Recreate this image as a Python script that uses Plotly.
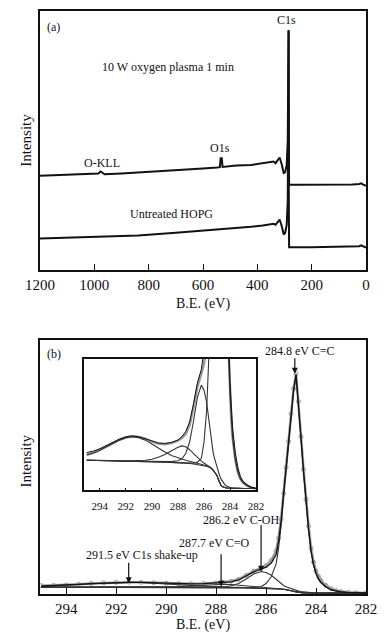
import plotly.graph_objects as go

# ---------------- Panel (a): survey spectra ----------------
be_plasma = [1200, 1100, 1050, 1000, 985, 977, 970, 962, 900, 800, 718, 650, 600, 549, 538,
             535, 531, 528, 477, 423, 380, 351, 340, 333, 325, 318, 310, 303, 298, 292, 288,
             286, 285, 284, 283, 250, 200, 150, 100, 50, 25, 18, 12, 5, 0]
int_plasma = [94.7, 95.5, 96.0, 96.6, 97.0, 99.0, 97.5, 96.2, 97.0, 98.5, 99.7, 101.0, 102.0, 103.0, 103.3,
              112.3, 112.3, 103.5, 105.0, 105.5, 107.0, 108.0, 109.0, 107.3, 110.0, 113.0, 106.0, 97.3, 98.0, 105.0, 130.0,
              190.0, 241.0, 120.0, 85.7, 85.7, 85.7, 85.7, 85.8, 86.0, 86.5, 87.0, 86.0, 85.5, 84.5]

be_hopg = [1200, 1100, 1000, 900, 839, 700, 600, 477, 423, 380, 351, 340, 333, 325, 318, 310,
           303, 298, 292, 288, 286, 285, 284, 283, 200, 100, 50, 25, 18, 12, 5, 0]
int_hopg = [31.7, 32.5, 33.3, 34.2, 34.7, 37.5, 39.5, 42.0, 43.5, 44.8, 45.7, 46.5, 45.5, 48.0, 50.7, 44.0,
            35.7, 37.0, 45.0, 70.0, 150.0, 240.0, 60.0, 23.0, 23.0, 23.2, 23.5, 24.0, 24.8, 24.0, 23.5, 22.5]

survey_ticks = [1200, 1000, 800, 600, 400, 200, 0]

# ---------------- Panel (b): C1s high resolution ----------------
be_c1s = [295.0, 294.5, 294.0, 293.5, 293.0, 292.5, 292.0, 291.5, 291.0, 290.5, 290.0, 289.5,
          289.0, 288.5, 288.0, 287.7, 287.4, 287.1, 286.8, 286.5, 286.2, 286.0, 285.8, 285.6,
          285.5, 285.4, 285.3, 285.2, 285.1, 285.0, 284.9, 284.8, 284.7, 284.6, 284.5, 284.4,
          284.3, 284.2, 284.1, 284.0, 283.9, 283.8, 283.6, 283.4, 283.2, 283.0, 282.7, 282.4, 282.0]

c1s_data = [8.4, 8.7, 9.2, 9.9, 10.6, 11.2, 11.7, 11.9, 11.7, 11.3, 10.8, 10.4,
            10.3, 10.5, 11.0, 11.7, 12.8, 14.8, 18.6, 23.0, 25.8, 28.5, 33.5, 43.0,
            56.0, 75.0, 101.0, 127.0, 153.0, 181.0, 206.0, 221.0, 193.0, 158.0, 125.0, 95.0,
            68.0, 46.0, 32.0, 23.0, 17.5, 13.5, 8.5, 5.3, 3.4, 2.4, 1.7, 1.2, 0.9]

c1s_fit = [7.95, 8.35, 8.95, 9.65, 10.35, 11.05, 11.55, 11.75, 11.65, 11.3, 10.7, 10.25,
           10.15, 10.4, 10.9, 11.45, 12.25, 14.1, 17.8, 22.2, 24.9, 26.95, 30.85, 39.4,
           53.0, 73.2, 100.9, 126.9, 152.2, 179.8, 204.6, 220.5, 191.3, 156.1, 122.9, 92.7,
           65.5, 43.3, 29.2, 20.6, 15.1, 11.5, 7.0, 4.3, 2.9, 2.1, 1.5, 1.1, 0.9]

bg_shirley = [6.80, 6.80, 6.75, 6.70, 6.70, 6.65, 6.60, 6.60, 6.55, 6.50, 6.50, 6.45,
              6.40, 6.35, 6.30, 6.25, 6.20, 6.10, 6.00, 5.90, 5.80, 5.70, 5.55, 5.35,
              5.20, 5.00, 4.70, 4.40, 4.10, 3.60, 2.80, 2.10, 1.60, 1.30, 1.15, 1.05,
              1.00, 0.98, 0.96, 0.95, 0.95, 0.95, 0.93, 0.92, 0.91, 0.90, 0.90, 0.90, 0.90]

comp_shakeup = [7.90, 8.30, 8.90, 9.60, 10.30, 11.00, 11.50, 11.70, 11.50, 11.00, 10.20, 9.30,
                8.50, 7.80, 7.30, 7.00, 6.80, 6.60, 6.40, 6.20, 6.00, 5.85, 5.65, 5.42,
                5.25, 5.05, 4.72, 4.40, 4.10, 3.60, 2.80, 2.10, 1.60, 1.30, 1.15, 1.05,
                1.00, 0.98, 0.96, 0.95, 0.95, 0.95, 0.93, 0.92, 0.91, 0.90, 0.90, 0.90, 0.90]

comp_co = [6.85, 6.85, 6.80, 6.75, 6.75, 6.70, 6.65, 6.65, 6.70, 6.80, 7.00, 7.40,
           8.00, 8.80, 9.50, 9.80, 9.60, 9.00, 8.20, 7.30, 6.60, 6.20, 5.85, 5.55,
           5.35, 5.10, 4.75, 4.40, 4.10, 3.60, 2.80, 2.10, 1.60, 1.30, 1.15, 1.05,
           1.00, 0.98, 0.96, 0.95, 0.95, 0.95, 0.93, 0.92, 0.91, 0.90, 0.90, 0.90, 0.90]

comp_coh = [6.80, 6.80, 6.75, 6.70, 6.70, 6.65, 6.60, 6.60, 6.55, 6.50, 6.50, 6.45,
            6.45, 6.50, 6.70, 7.10, 8.20, 10.60, 15.00, 20.00, 22.50, 21.50, 19.00, 14.50,
            12.00, 10.00, 8.50, 7.30, 6.30, 5.40, 4.40, 3.60, 2.90, 2.40, 2.00, 1.70,
            1.45, 1.30, 1.15, 1.05, 1.00, 0.97, 0.93, 0.92, 0.91, 0.90, 0.90, 0.90, 0.90]

comp_cc = [6.80, 6.80, 6.75, 6.70, 6.70, 6.65, 6.60, 6.60, 6.55, 6.50, 6.50, 6.45,
           6.40, 6.35, 6.30, 6.30, 6.25, 6.20, 6.20, 6.40, 7.20, 10.50, 17.00, 30.00,
           46.00, 68.00, 97.00, 124.00, 150.00, 178.00, 203.00, 219.00, 190.00, 155.00, 122.00, 92.00,
           65.00, 43.00, 29.00, 20.50, 15.00, 11.50, 7.00, 4.30, 2.90, 2.10, 1.50, 1.10, 0.90]

c1s_ticks = [294, 292, 290, 288, 286, 284, 282]

FONT = "Liberation Serif"
BLACK = "#111111"
GRAY = "#9a9a9a"
COMP = "#333333"

fig = go.Figure()

# panel (a)
fig.add_trace(go.Scatter(x=be_plasma, y=int_plasma, mode="lines",
                         line=dict(color=BLACK, width=2), xaxis="x", yaxis="y"))
fig.add_trace(go.Scatter(x=be_hopg, y=int_hopg, mode="lines",
                         line=dict(color=BLACK, width=2), xaxis="x", yaxis="y"))

# panel (b) main
fig.add_trace(go.Scatter(x=be_c1s, y=c1s_data, mode="lines+markers",
                         line=dict(color=GRAY, width=2.5),
                         marker=dict(symbol="circle-open", size=4, color=GRAY, line=dict(width=1)),
                         xaxis="x2", yaxis="y2"))
for comp in (bg_shirley, comp_shakeup, comp_co, comp_coh, comp_cc):
    fig.add_trace(go.Scatter(x=be_c1s, y=comp, mode="lines",
                             line=dict(color=COMP, width=1.1), xaxis="x2", yaxis="y2"))
fig.add_trace(go.Scatter(x=be_c1s, y=c1s_fit, mode="lines",
                         line=dict(color=BLACK, width=1.2), xaxis="x2", yaxis="y2"))

# inset
fig.add_trace(go.Scatter(x=be_c1s, y=c1s_fit, mode="lines",
                         line=dict(color=GRAY, width=2.5), xaxis="x3", yaxis="y3"))
for comp in (bg_shirley, comp_shakeup, comp_co, comp_coh, comp_cc):
    fig.add_trace(go.Scatter(x=be_c1s, y=comp, mode="lines",
                             line=dict(color=COMP, width=1.1), xaxis="x3", yaxis="y3"))
fig.add_trace(go.Scatter(x=be_c1s, y=c1s_data, mode="lines",
                         line=dict(color=BLACK, width=1), xaxis="x3", yaxis="y3"))

axis_common = dict(showline=True, mirror=True, linecolor=BLACK, linewidth=1.5,
                   showgrid=False, zeroline=False)

annotations = []
def txt(text, x, y, xref, yref, size=12, angle=0):
    annotations.append(dict(text=text, x=x, y=y, xref=xref, yref=yref, showarrow=False,
                            xanchor="center", yanchor="middle", textangle=angle,
                            font=dict(family=FONT, size=size, color=BLACK)))

def arrow(x, y, length, xref, yref):
    annotations.append(dict(text="", x=x, y=y, xref=xref, yref=yref, showarrow=True,
                            ax=0, ay=-length, arrowhead=2, arrowsize=1, arrowwidth=1.2,
                            arrowcolor=BLACK))

# panel (a) text
txt("(a)", 1150, 244, "x", "y")
txt("C1s", 293, 251, "x", "y")
txt("10 W oxygen plasma 1 min", 730, 204, "x", "y")
txt("O1s", 539, 123, "x", "y")
txt("O-KLL", 972, 107, "x", "y")
txt("Untreated HOPG", 717, 56, "x", "y")

# panel (b) text
txt("(b)", 294.5, 241, "x2", "y2")
txt("284.8 eV C=C", 284.66, 244, "x2", "y2")
txt("286.2 eV C-OH", 287.02, 74, "x2", "y2")
txt("287.7 eV C=O", 288.06, 51, "x2", "y2")
txt("291.5 eV C1s shake-up", 290.95, 39, "x2", "y2")
arrow(284.85, 221, 17, "x2", "y2")
arrow(286.2, 22.3, 48, "x2", "y2")
arrow(287.8, 7.3, 34, "x2", "y2")
arrow(291.5, 10.7, 22, "x2", "y2")

# axis titles
txt("Intensity", -0.042, 0.778, "paper", "paper", size=15, angle=-90)
txt("Intensity", -0.042, 0.228, "paper", "paper", size=15, angle=-90)
txt("B.E. (eV)", 0.50, 0.497, "paper", "paper", size=14)
txt("B.E. (eV)", 0.50, -0.053, "paper", "paper", size=14)

fig.update_layout(
    width=386, height=642, autosize=False,
    margin=dict(l=40, r=14, t=9, b=48),
    paper_bgcolor="white", plot_bgcolor="white",
    showlegend=False,
    font=dict(family=FONT, color=BLACK),
    xaxis=dict(**axis_common, domain=[0, 1], range=[1200, 0], anchor="y",
               ticks="inside", ticklen=6, tickwidth=1.2, tickcolor=BLACK,
               tickvals=survey_ticks, tickfont=dict(family=FONT, size=15)),
    yaxis=dict(**axis_common, domain=[0.5556, 1], range=[0, 260], anchor="x",
               showticklabels=False, ticks=""),
    xaxis2=dict(**axis_common, domain=[0, 1], range=[295.05, 282], anchor="y2",
                ticks="inside", ticklen=6, tickwidth=1.2, tickcolor=BLACK,
                tickvals=c1s_ticks, tickfont=dict(family=FONT, size=15)),
    yaxis2=dict(**axis_common, domain=[0, 0.4359], range=[0, 255], anchor="x2",
                showticklabels=False, ticks=""),
    xaxis3=dict(**axis_common, domain=[0.1355, 0.6627], range=[295.2, 282], anchor="y3",
                ticks="inside", ticklen=3, tickwidth=1, tickcolor=BLACK,
                ticklabelstandoff=5,
                tickvals=c1s_ticks, tickfont=dict(family=FONT, size=11)),
    yaxis3=dict(**axis_common, domain=[0.1778, 0.4034], range=[0.5, 28], anchor="x3",
                showticklabels=False, ticks=""),
    annotations=annotations,
)

fig.write_html("out.html", config={"displayModeBar": False},
               post_script="document.body.style.margin='0';")
